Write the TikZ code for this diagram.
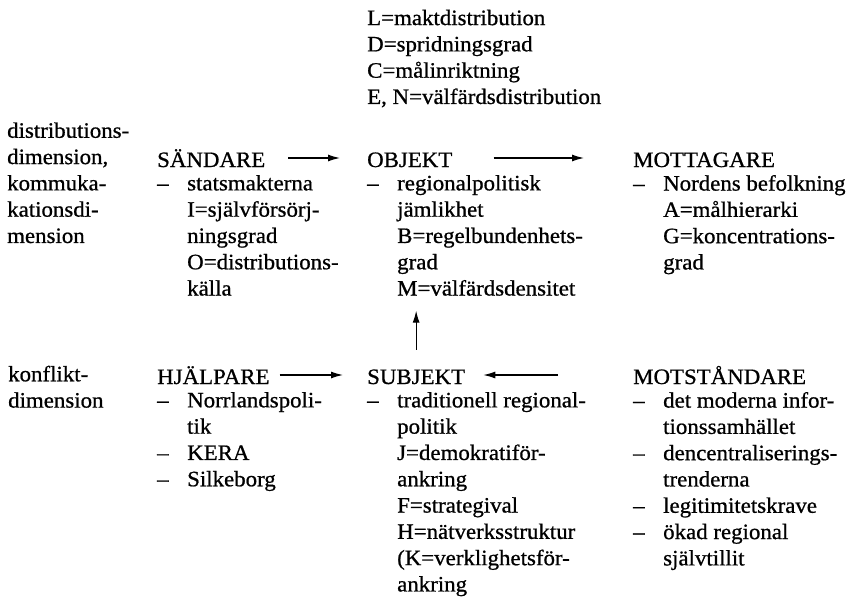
\documentclass[tikz,border=0pt]{standalone}
\usepackage{fontspec}
\setmainfont[FakeStretch=1.04,FakeBold=0.8]{Liberation Serif}
\usepackage{tikz}
\usetikzlibrary{calc}
\usetikzlibrary{arrows.meta, positioning}

\newcommand{\strek}[1]{\makebox[30pt][l]{--}#1}
\newcommand{\indrag}[1]{\hspace*{30pt}#1}

\begin{document}
\begin{tikzpicture}[x=1pt,y=1pt,-,auto,
                    head node/.style={anchor=base west,inner sep=0pt,text height=18pt,text depth=0pt,font=\fontsize{22}{26.3}\selectfont},
                    list node/.style={anchor=north west,inner sep=0pt,align=left,execute at begin node=\strut,font=\fontsize{22}{26.3}\selectfont},
                    pil/.style={-{Latex[length=12pt,width=7pt]},line width=1.2pt}]

  \useasboundingbox (0,0) rectangle (862,-602);

  % north west = first baseline + strut height (18.41)
  \node[list node] (beteckning) at (367,-9.6) {L=maktdistribution\\D=spridningsgrad\\C=målinriktning\\E, N=välfärdsdistribution};

  \node[list node] (distdim) at (7,-122.3) {distributions-\\dimension,\\kommuka-\\kationsdi-\\mension};
  \node[list node] (konfldim) at (8,-365.6) {konflikt-\\dimension};

  \node[head node] (sandare) at (157,-167) {SÄNDARE};
  \node[head node] (objekt) [shift={(210,0)}] at (sandare.base west) {OBJEKT};
  \node[head node] (mottagare) [shift={(476,0)}] at (sandare.base west) {MOTTAGARE};
  \node[head node] (hjalpare) at (157,-384) {HJÄLPARE};
  \node[head node] (subjekt) [shift={(210,0)}] at (hjalpare.base west) {SUBJEKT};
  \node[head node] (motstandare) [shift={(476,0)}] at (hjalpare.base west) {MOTSTÅNDARE};

  \node[list node] (sandarelista) [shift={(0,-7.89)}] at (sandare.base west)
    {\strek{statsmakterna}\\\indrag{I=självförsörj-}\\\indrag{ningsgrad}\\\indrag{O=distributions-}\\\indrag{källa}};
  \node[list node] (objektlista) [shift={(0,-7.89)}] at (objekt.base west)
    {\strek{regionalpolitisk}\\\indrag{jämlikhet}\\\indrag{B=regelbundenhets-}\\\indrag{grad}\\\indrag{M=välfärdsdensitet}};
  \node[list node] (mottagarelista) [shift={(0,-7.89)}] at (mottagare.base west)
    {\strek{Nordens befolkning}\\\indrag{A=målhierarki}\\\indrag{G=koncentrations-}\\\indrag{grad}};
  \node[list node] (hjalparelista) [shift={(0,-7.89)}] at (hjalpare.base west)
    {\strek{Norrlandspoli-}\\\indrag{tik}\\\strek{KERA}\\\strek{Silkeborg}};
  \node[list node] (subjektlista) [shift={(0,-7.89)}] at (subjekt.base west)
    {\strek{traditionell regional-}\\\indrag{politik}\\\indrag{J=demokratiför-}\\\indrag{ankring}\\\indrag{F=strategival}\\\indrag{H=nätverksstruktur}\\\indrag{(K=verklighetsför-}\\\indrag{ankring}};
  \node[list node] (motstandarelista) [shift={(0,-7.89)}] at (motstandare.base west)
    {\strek{det moderna infor-}\\\indrag{tionssamhället}\\\strek{dencentraliserings-}\\\indrag{trenderna}\\\strek{legitimitetskrave}\\\strek{ökad regional}\\\indrag{självtillit}};

  \path[pil]
  (sandare.east) edge[shorten <=23pt, shorten >=27pt] (objekt.west)
  (objekt.east) edge[shorten <=41pt, shorten >=49pt] (mottagare.west)
  (hjalpare.east) edge[shorten <=10pt, shorten >=24pt] (subjekt.west)
  (motstandare.west) edge[shorten <=75pt, shorten >=18pt] (subjekt.east)
  (subjekt.north) edge[shorten <=16pt, shorten >=7pt] (subjekt.north |- objektlista.south);

\end{tikzpicture}
\end{document}
